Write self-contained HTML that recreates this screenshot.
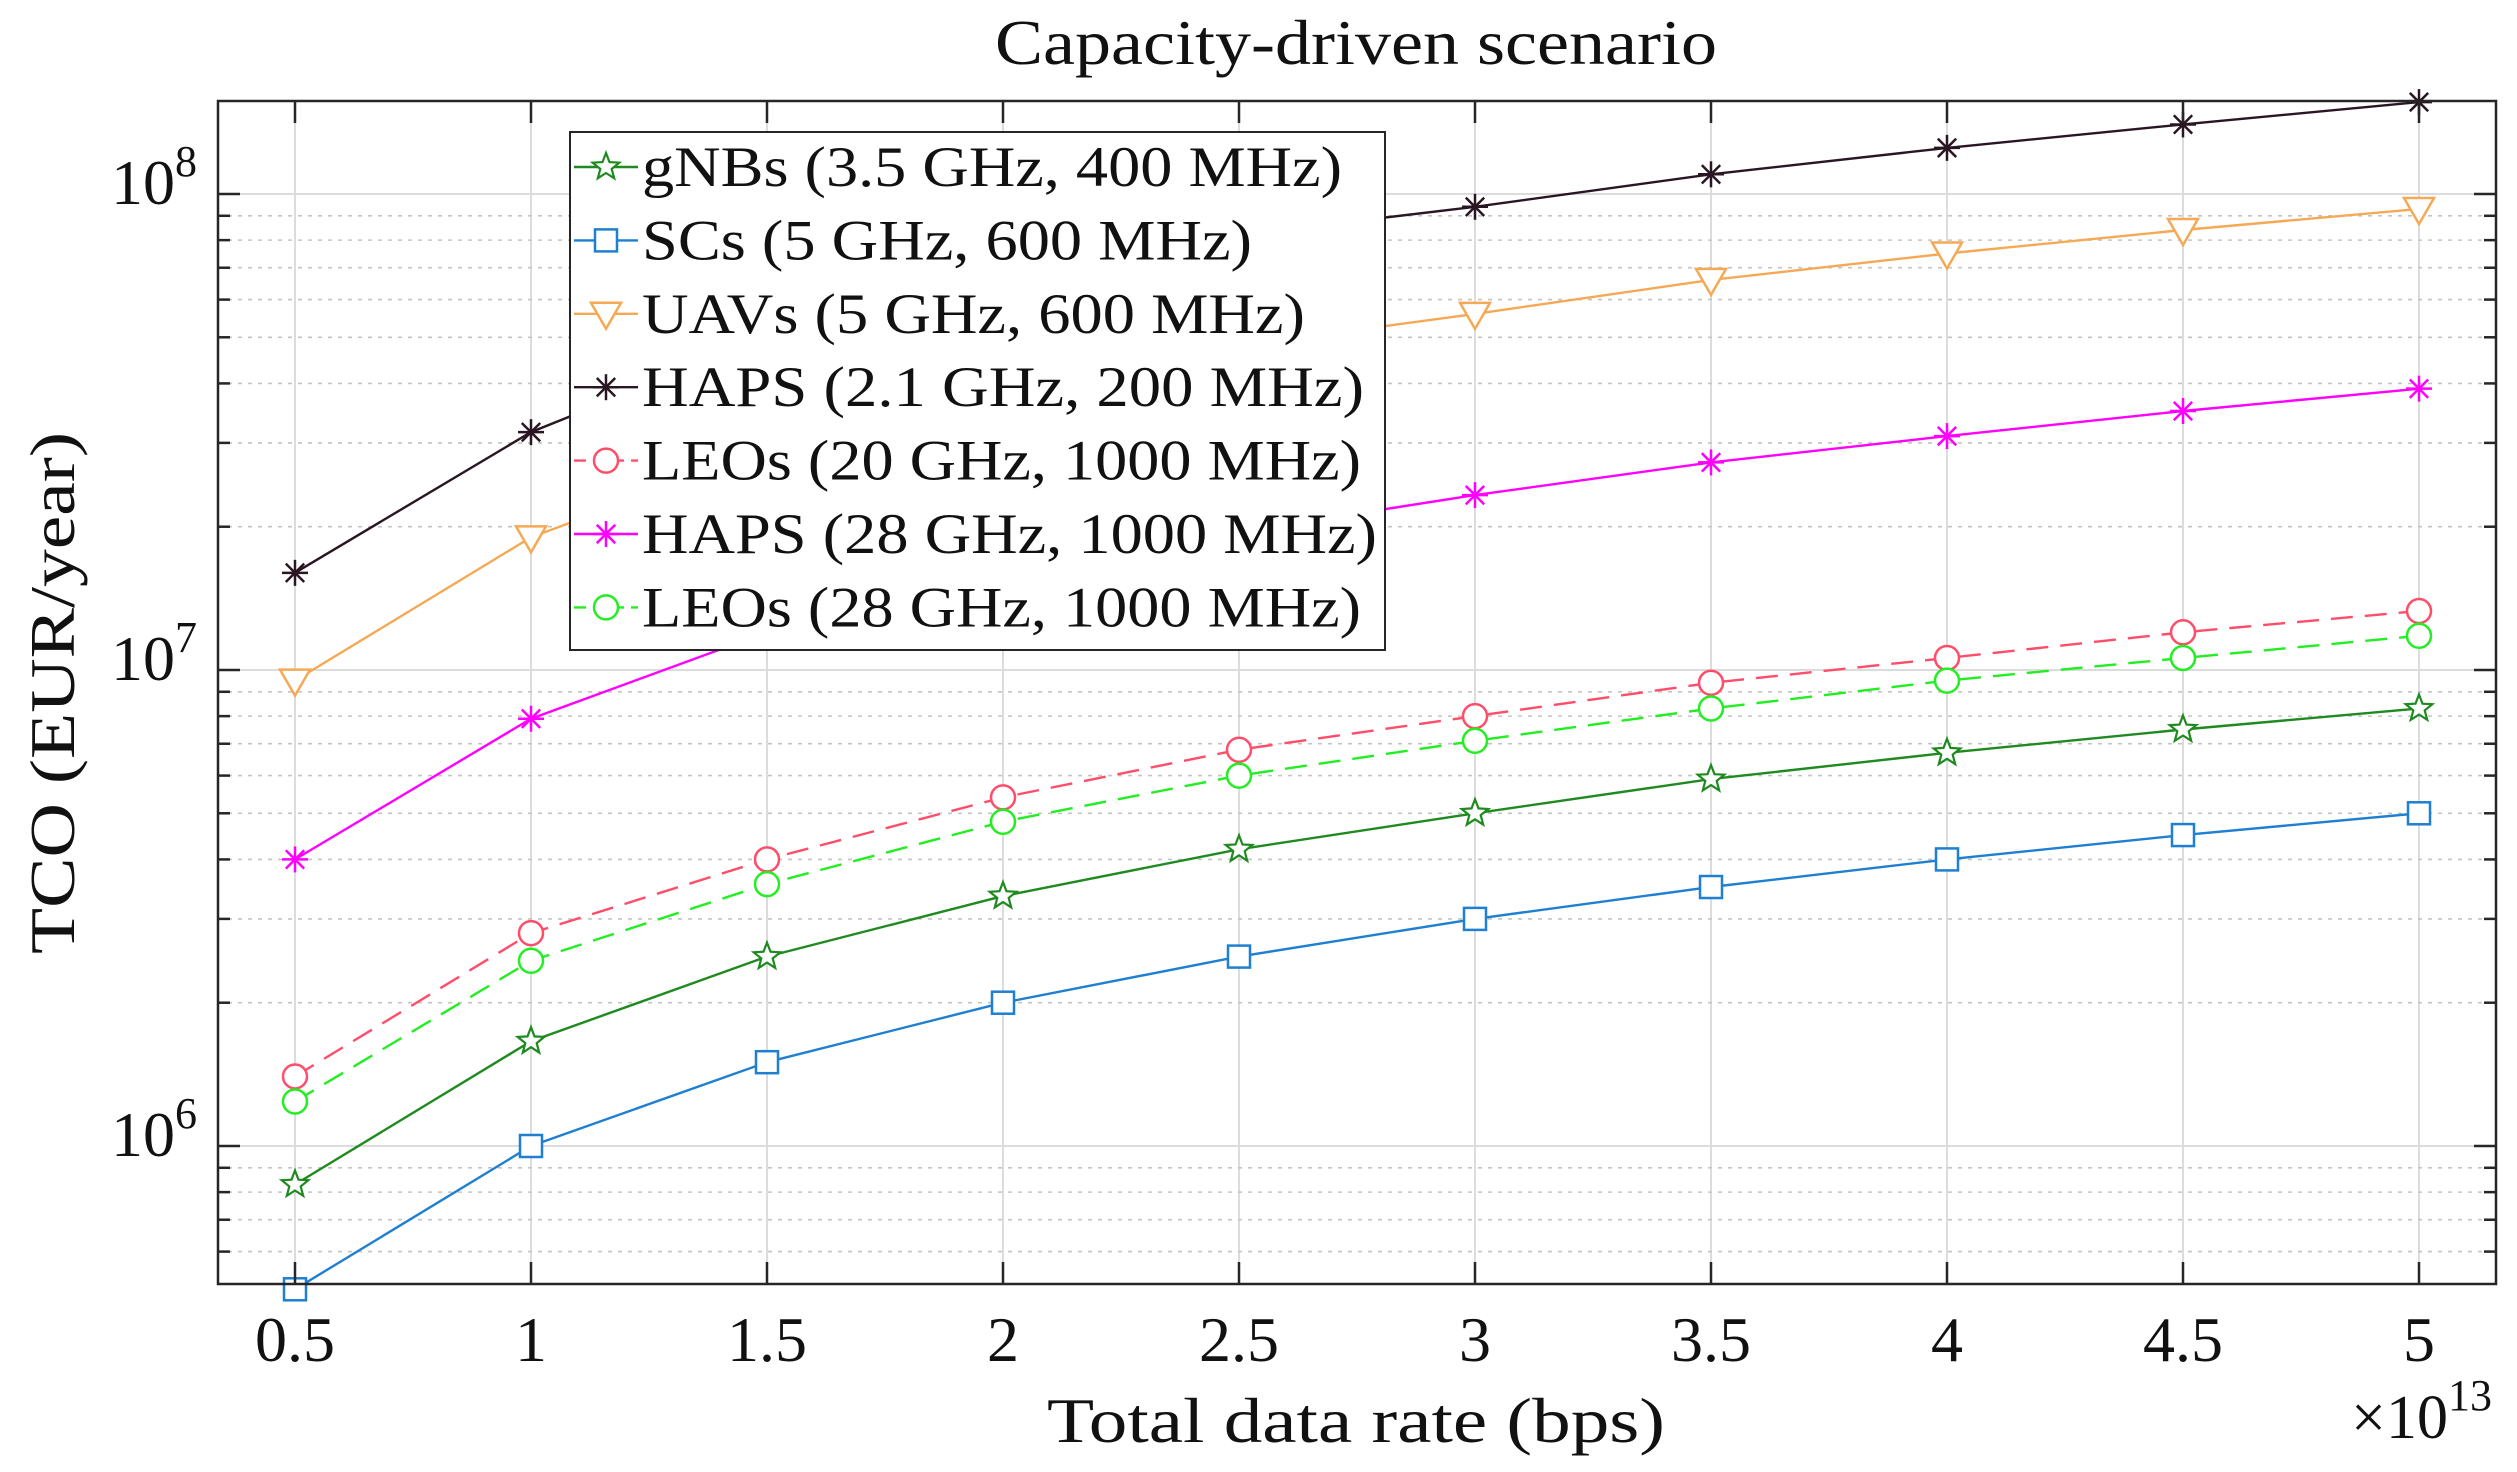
<!DOCTYPE html>
<html><head><meta charset="utf-8"><style>
html,body{margin:0;padding:0;background:#fff;}
svg{display:block;}
text{font-family:"Liberation Serif",serif;fill:#111;}
</style></head><body>
<svg id="chart" width="2517" height="1472" viewBox="0 0 2517 1472" xmlns="http://www.w3.org/2000/svg">
<text x="1356" y="64" font-size="64" text-anchor="middle" textLength="722" lengthAdjust="spacingAndGlyphs">Capacity-driven scenario</text>
<g id="grid"></g>
<g id="series"></g>
<rect x="218" y="101" width="2278" height="1183" fill="none" stroke="#262626" stroke-width="2.5"/>
<g id="ticks"></g>
<text x="1356" y="1442" font-size="64" text-anchor="middle" textLength="618" lengthAdjust="spacingAndGlyphs">Total data rate (bps)</text>
<text x="2492" y="1438" font-size="62" text-anchor="end">×10<tspan font-size="44" dy="-28">13</tspan></text>
<text transform="translate(74,693) rotate(-90)" font-size="64" text-anchor="middle" textLength="522" lengthAdjust="spacingAndGlyphs">TCO (EUR/year)</text>
<g id="legend"></g>
</svg>
<script>
const xValues = [0.5,1,1.5,2,2.5,3,3.5,4,4.5,5];
const xTickLabels = ["0.5","1","1.5","2","2.5","3","3.5","4","4.5","5"];
const yDecades = [6,7,8];
const seriesNames = ["gNBs (3.5 GHz, 400 MHz)","SCs (5 GHz, 600 MHz)","UAVs (5 GHz, 600 MHz)","HAPS (2.1 GHz, 200 MHz)","LEOs (20 GHz, 1000 MHz)","HAPS (28 GHz, 1000 MHz)","LEOs (28 GHz, 1000 MHz)"];
const gnbValues = [8.3e5,1.66e6,2.5e6,3.35e6,4.2e6,5.0e6,5.9e6,6.7e6,7.5e6,8.3e6];
const scValues = [5.0e5,1.0e6,1.5e6,2.0e6,2.5e6,3.0e6,3.5e6,4.0e6,4.5e6,5.0e6];
const uavValues = [9.5e6,1.9e7,2.9e7,3.9e7,4.8e7,5.6e7,6.6e7,7.5e7,8.4e7,9.3e7];
const haps21Values = [1.6e7,3.16e7,5.0e7,6.8e7,8.2e7,9.4e7,1.1e8,1.25e8,1.4e8,1.56e8];
const leo20Values = [1.4e6,2.8e6,4.0e6,5.4e6,6.8e6,8.0e6,9.4e6,1.06e7,1.2e7,1.33e7];
const haps28Values = [4.0e6,7.9e6,1.2e7,1.6e7,1.95e7,2.33e7,2.73e7,3.1e7,3.5e7,3.9e7];
const leo28Values = [1.24e6,2.45e6,3.55e6,4.8e6,6.0e6,7.1e6,8.3e6,9.5e6,1.06e7,1.18e7];

const NS="http://www.w3.org/2000/svg";
const L=218,R=2496,T=101,B=1284;
function xs(v){return 295+(v-0.5)*(2419-295)/4.5;}
function ys(v){return 194+(8-Math.log10(v))*476;}
function mk(tag,attrs,parent){const e=document.createElementNS(NS,tag);for(const k in attrs)e.setAttribute(k,attrs[k]);parent.appendChild(e);return e;}
const grid=document.getElementById('grid'),ticks=document.getElementById('ticks'),sg=document.getElementById('series'),lg=document.getElementById('legend');

xValues.forEach((v,i)=>{
  const x=xs(v);
  const g=mk('line',{x1:x,x2:x,y1:T,y2:B,stroke:'#dcdcdc','stroke-width':2},grid);
  
  
  mk('line',{x1:x,x2:x,y1:B,y2:B-22,stroke:'#262626','stroke-width':2.5},ticks);
  mk('line',{x1:x,x2:x,y1:T,y2:T+22,stroke:'#262626','stroke-width':2.5},ticks);
  const t=mk('text',{x:x,y:1361,'font-size':64,'text-anchor':'middle'},ticks);
  t.textContent=xTickLabels[i];
  
  
});
for(let d=5;d<=8;d++){
  for(let m=1;m<=9;m++){
    const v=m*Math.pow(10,d);const y=ys(v);
    if(y<T+1||y>B-1)continue;
    if(m===1){
      mk('line',{x1:L,x2:R,y1:y,y2:y,stroke:'#dcdcdc','stroke-width':2},grid);
      mk('line',{x1:L,x2:L+22,y1:y,y2:y,stroke:'#262626','stroke-width':2.5},ticks);
      mk('line',{x1:R,x2:R-22,y1:y,y2:y,stroke:'#262626','stroke-width':2.5},ticks);
    } else {
      mk('line',{x1:L,x2:R,y1:y,y2:y,stroke:'#c4c4c4','stroke-width':1.6,'stroke-dasharray':'4 6'},grid);
      mk('line',{x1:L,x2:L+12,y1:y,y2:y,stroke:'#262626','stroke-width':2.5},ticks);
      mk('line',{x1:R,x2:R-12,y1:y,y2:y,stroke:'#262626','stroke-width':2.5},ticks);
    }
  }
}
yDecades.forEach(d=>{
  const t=mk('text',{x:197,y:ys(Math.pow(10,d))+10,'font-size':64,'text-anchor':'end'},ticks);
  t.innerHTML='10<tspan font-size="44" dy="-28">'+d+'</tspan>';
  
  
});

function marker(type,x,y,color,parent){
  const s=11;
  if(type==='square') return mk('rect',{x:x-s,y:y-s,width:2*s,height:2*s,fill:'#fff',stroke:color,'stroke-width':2.5},parent);
  if(type==='circle') return mk('circle',{cx:x,cy:y,r:s+1,fill:'#fff',stroke:color,'stroke-width':2.5},parent);
  if(type==='tri') return mk('polygon',{points:`${x-15},${y-11} ${x+15},${y-11} ${x},${y+15}`,fill:'#fff',stroke:color,'stroke-width':2.5},parent);
  if(type==='star'){let p=[];for(let k=0;k<10;k++){const r=k%2?6:14;const a=-Math.PI/2+k*Math.PI/5;p.push((x+r*Math.cos(a)).toFixed(1)+','+(y+r*Math.sin(a)).toFixed(1));}
    return mk('polygon',{points:p.join(' '),fill:'#fff',stroke:color,'stroke-width':2.2},parent);}
  if(type==='ast'){const g=mk('g',{stroke:color,'stroke-width':2.5},parent);for(let k=0;k<4;k++){const a=k*Math.PI/4;mk('line',{x1:x-13*Math.cos(a),y1:y-13*Math.sin(a),x2:x+13*Math.cos(a),y2:y+13*Math.sin(a)},g);}return g;}
}
const seriesDefs=[
  {vals:gnbValues,color:'#1f8a1f',m:'star',dash:null,name:'series-gnbs'},
  {vals:scValues,color:'#1f7fd0',m:'square',dash:null,name:'series-scs'},
  {vals:uavValues,color:'#f5a955',m:'tri',dash:null,name:'series-uavs'},
  {vals:haps21Values,color:'#2a1622',m:'ast',dash:null,name:'series-haps-2-1ghz'},
  {vals:leo20Values,color:'#ff4d6a',m:'circle',dash:'22 12',name:'series-leos-20ghz'},
  {vals:haps28Values,color:'#ff00ff',m:'ast',dash:null,name:'series-haps-28ghz'},
  {vals:leo28Values,color:'#22ee22',m:'circle',dash:'22 12',name:'series-leos-28ghz'}
];
seriesDefs.forEach(s=>{
  const g=mk('g',{},sg);
  
  
  const pts=s.vals.map((v,i)=>xs(xValues[i]).toFixed(1)+','+ys(v).toFixed(1)).join(' ');
  const a={points:pts,fill:'none',stroke:s.color,'stroke-width':2.4};
  if(s.dash)a['stroke-dasharray']=s.dash;
  mk('polyline',a,g);
  s.vals.forEach((v,i)=>{const e=marker(s.m,xs(xValues[i]),ys(v),s.color,g);
    
    });
});

mk('rect',{x:570,y:132,width:815,height:518,fill:'#fff',stroke:'#262626','stroke-width':2},lg);
const ends=[1342,1252,1305,1364,1361,1377,1361];
seriesDefs.forEach((s,i)=>{
  const y=167+i*73.4;
  const g=mk('g',{},lg);
  
  
  const a={x1:574,x2:638,y1:y,y2:y,stroke:s.color,'stroke-width':2.4};
  if(s.dash)a['stroke-dasharray']='12 7';
  mk('line',a,g);
  marker(s.m,606,y,s.color,g);
  const t=mk('text',{x:642,y:y+19,'font-size':57,textLength:ends[i]-642,lengthAdjust:'spacingAndGlyphs'},g);
  t.textContent=seriesNames[i];
});
</script>
</body></html>
